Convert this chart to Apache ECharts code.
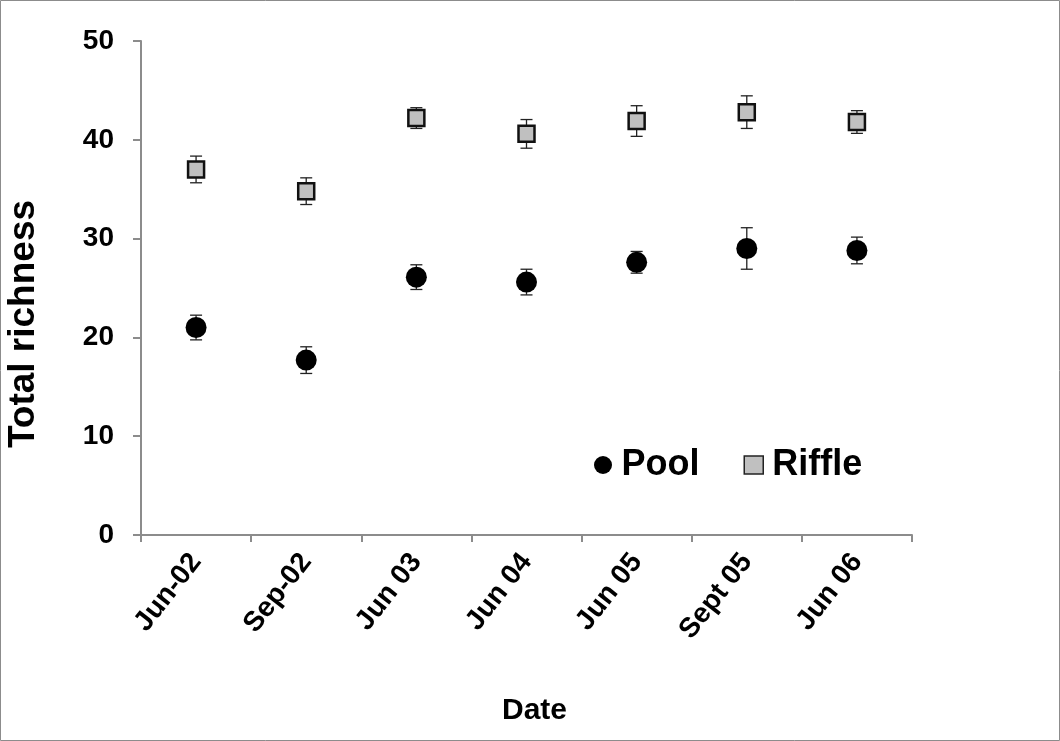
<!DOCTYPE html>
<html>
<head>
<meta charset="utf-8">
<script src="https://cdn.jsdelivr.net/npm/echarts@6/dist/echarts.min.js"></script>
<style>
  html, body { margin: 0; padding: 0; background: #fff; }
  #chart { width: 1060px; height: 741px; }
</style>
</head>
<body>
<div id="chart"></div>
<script>
// Sampling dates
const dates = ['Jun-02', 'Sep-02', 'Jun 03', 'Jun 04', 'Jun 05', 'Sept 05', 'Jun 06'];

// Mean total richness and error (±) per habitat
const poolMean   = [21.0, 17.7, 26.1, 25.6, 27.6, 29.0, 28.8];
const poolErr    = [1.25, 1.35, 1.25, 1.3, 1.1, 2.1, 1.35];
const riffleMean = [37.0, 34.8, 42.2, 40.6, 41.9, 42.8, 41.8];
const riffleErr  = [1.35, 1.35, 1.05, 1.45, 1.55, 1.65, 1.15];

const yTicks = [0, 10, 20, 30, 40, 50];

const FONT = '"Liberation Sans", Arial, sans-serif';
const AXIS_GRAY = '#8c8c8c';

function errorSeries(name, mean, err) {
  return {
    type: 'custom',
    name: name + ' error',
    z: 1,
    silent: true,
    data: mean.map((m, i) => [i, m - err[i], m + err[i]]),
    renderItem: function (params, api) {
      const lo = api.coord([api.value(0), api.value(1)]);
      const hi = api.coord([api.value(0), api.value(2)]);
      const x = lo[0];
      const half = 6;
      const style = { stroke: '#222', lineWidth: 1.3 };
      return {
        type: 'group',
        children: [
          { type: 'line', shape: { x1: x, y1: lo[1], x2: x, y2: hi[1] }, style: style },
          { type: 'line', shape: { x1: x - half, y1: lo[1], x2: x + half, y2: lo[1] }, style: style },
          { type: 'line', shape: { x1: x - half, y1: hi[1], x2: x + half, y2: hi[1] }, style: style }
        ]
      };
    }
  };
}

const chart = echarts.init(document.getElementById('chart'), null, { renderer: 'canvas' });

chart.setOption({
  backgroundColor: '#ffffff',
  animation: false,
  grid: { left: 141, right: 148, top: 41, bottom: 206, containLabel: false, outerBoundsMode: 'none' },
  graphic: [{
    type: 'rect',
    silent: true,
    shape: { x: 0.5, y: 0.5, width: 1059, height: 740 },
    style: { fill: 'none', stroke: '#8c8c8c', lineWidth: 1 }
  }],
  legend: {
    left: 589,
    top: 442,
    itemGap: 44,
    itemWidth: 19,
    itemHeight: 18,
    textStyle: { fontFamily: FONT, fontWeight: 'bold', fontSize: 36, color: '#000', padding: [0, 0, 0, 4] },
    data: [
      { name: 'Pool', icon: 'circle', itemStyle: { color: '#000' } },
      { name: 'Riffle', icon: 'rect', itemStyle: { color: '#c0c0c0', borderColor: '#222', borderWidth: 1.5 } }
    ]
  },
  xAxis: {
    type: 'category',
    data: dates,
    boundaryGap: true,
    name: 'Date',
    nameLocation: 'middle',
    nameGap: 161,
    nameTextStyle: { fontFamily: FONT, fontWeight: 'bold', fontSize: 30, color: '#000', padding: [0, 0, 0, 16] },
    axisLine: { lineStyle: { color: AXIS_GRAY, width: 2 } },
    axisTick: { show: true, alignWithLabel: false, length: 7, lineStyle: { color: AXIS_GRAY, width: 2 } },
    axisLabel: {
      rotate: 52,
      margin: 22,
      interval: 0,
      fontFamily: FONT,
      fontWeight: 'bold',
      fontSize: 28,
      color: '#000'
    },
    splitLine: { show: false }
  },
  yAxis: {
    type: 'value',
    min: yTicks[0],
    max: yTicks[yTicks.length - 1],
    interval: 10,
    name: 'Total richness',
    nameLocation: 'middle',
    nameGap: 99,
    nameTextStyle: { fontFamily: FONT, fontWeight: 'bold', fontSize: 37, color: '#000', padding: [0, 72, 0, 0] },
    axisLine: { show: true, lineStyle: { color: AXIS_GRAY, width: 2 } },
    axisTick: { show: true, length: 8, lineStyle: { color: AXIS_GRAY, width: 2 } },
    axisLabel: {
      margin: 27,
      fontFamily: FONT,
      fontWeight: 'bold',
      fontSize: 28,
      color: '#000'
    },
    splitLine: { show: false }
  },
  series: [
    errorSeries('Pool', poolMean, poolErr),
    errorSeries('Riffle', riffleMean, riffleErr),
    {
      type: 'scatter',
      name: 'Pool',
      z: 3,
      symbol: 'circle',
      symbolSize: 21,
      itemStyle: { color: '#000', opacity: 1 },
      data: poolMean
    },
    {
      type: 'scatter',
      name: 'Riffle',
      z: 3,
      symbol: 'rect',
      symbolSize: 16,
      itemStyle: { color: '#c0c0c0', borderColor: '#111', borderWidth: 2.5, opacity: 1 },
      data: riffleMean
    }
  ]
});
</script>
</body>
</html>
